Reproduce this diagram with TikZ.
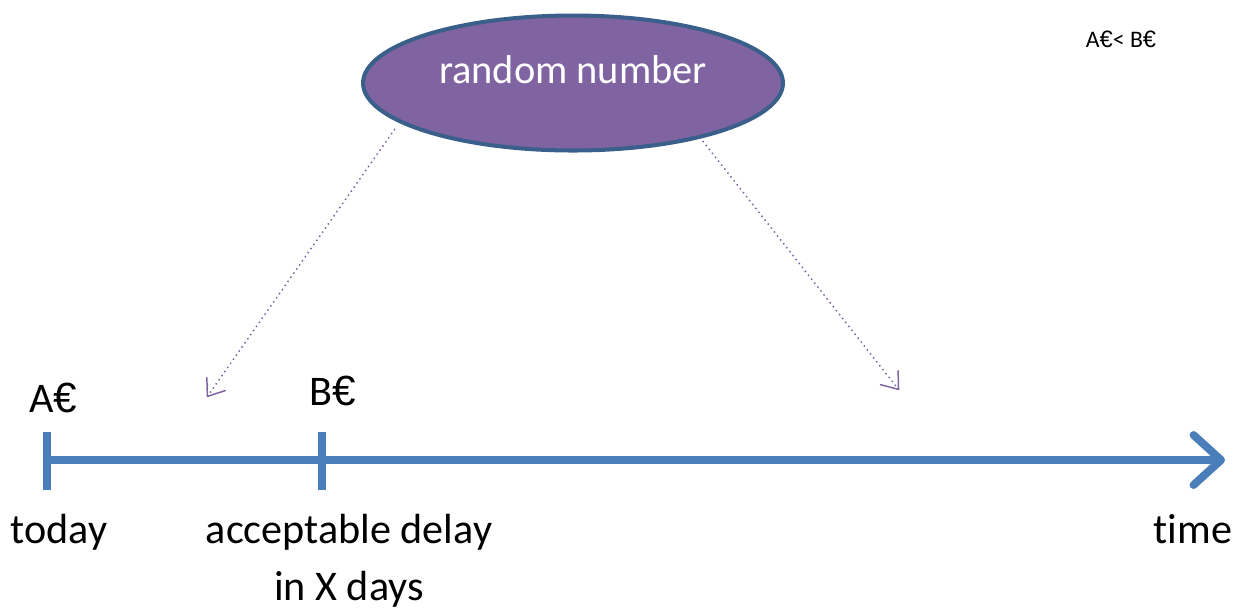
\documentclass[tikz,border=0pt]{standalone}
\usepackage{fontspec}
\setmainfont{Carlito}[Ligatures = NoCommon]
\newfontfamily\eurfont{Liberation Sans}
\newcommand{\eur}{{\eurfont €}}
\usetikzlibrary{arrows.meta,shapes.geometric}
\definecolor{axisblue}{HTML}{4A7EBB}
\definecolor{randpurple}{HTML}{8064A2}
\definecolor{randborder}{HTML}{3A5F8B}
\tikzset{
  axisline/.style = {line width = 4.5pt, draw = axisblue},
  guess/.style = {draw = randpurple, line width = 0.85pt, dotted, -{Straight Barb[length = 0.3cm, width = 0.45cm, round]}},
  lbl/.style = {anchor = base, inner sep = 0pt, font = \fontsize{24}{29}\selectfont}
}
\begin{document}
\begin{tikzpicture}[x = 0.02cm, y = -0.02cm]
	\useasboundingbox (0, 0) rectangle (1240, 610);
	\node (rand) at (573, 83) [ellipse, draw = randborder, line width = 2.3pt, fill = randpurple, minimum width = 8.4cm, minimum height = 2.7cm] {};
	\node at (573, 83) [anchor = base, inner sep = 0pt, text = white, font = \fontsize{23}{28}\selectfont] {random number};
	\node at (1121, 47) [anchor = base, inner sep = 0pt, font = \fontsize{13.5}{16}\selectfont] {A\eur< B\eur};
	% time axis
	\coordinate (today) at (47, 460);
	\coordinate (delay) at (322, 460);
	\coordinate (tend) at (1225, 460);
		\draw[axisline, -{Straight Barb[length = 0.55cm, width = 1.0cm, round]}] (today) -- (tend);
		\draw[axisline] (47, 432) -- (47, 490);
		\draw[axisline] (322, 432) -- (322, 490);
	\node at (53, 412) [lbl] {A\eur};
	\node at (333, 405) [lbl] {B\eur};
	\node at (59, 543) [lbl] {today};
	\node at (349, 543) [lbl] {acceptable delay};
	\node at (349, 600) [lbl] {in X days};
	\node at (1193, 543) [lbl] {time};
	% dotted arrows from the ellipse
	\coordinate (leftend) at (207, 397);
	\coordinate (rightend) at (899, 390);
		\draw[guess] (rand.195) ++(-14, 2) -- (leftend);
		\draw[guess] (rand.336) ++(4, 2) -- (rightend);
\end{tikzpicture}
\end{document}
